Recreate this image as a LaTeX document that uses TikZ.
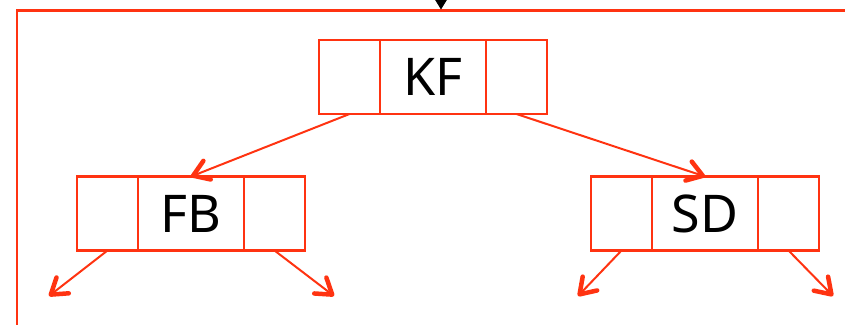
\documentclass[tikz,border=0pt]{standalone}
\usepackage{fontspec}
\setmainfont{Noto Sans}
\usetikzlibrary{arrows.meta}
\definecolor{tred}{HTML}{FF3311}
\begin{document}
\begin{tikzpicture}[x=1pt,y=-1pt,
  cell/.style={draw=tred,line width=2.2pt,minimum height=74pt,inner sep=0pt,outer sep=0pt,text=black,
     font=\fontsize{52}{60}\selectfont},
  side/.style={cell,minimum width=61pt},
  mid/.style={cell,minimum width=106pt},
  ptr/.style={draw=tred,line width=2pt,-{Straight Barb[length=15pt,width=20pt,line width=4.5pt,round]}},
  frame/.style={draw=tred,line width=2.4pt}]
\useasboundingbox (0,0) rectangle (845,324);
% frame
\draw[frame] (17,330) -- (17,10.5) -- (850,10.5);
\coordinate (in) at (441,-5);
\coordinate (inend) at (441,9.5);
\draw[line width=1pt,-{Triangle[length=10pt,width=12pt]}] (in) -- (inend);
% KF
\node[mid] (kfM) at (433,77) {\raisebox{-3.5pt}{KF}};
\node[side,anchor=east] (kfL) at (kfM.west) {};
\node[side,anchor=west] (kfR) at (kfM.east) {};
% FB
\node[mid] (fbM) at (191,213.5) {\raisebox{-3.5pt}{FB}};
\node[side,anchor=east] (fbL) at (fbM.west) {};
\node[side,anchor=west] (fbR) at (fbM.east) {};
% SD
\node[mid] (sdM) at (705,213.5) {\raisebox{-3.5pt}{SD}};
\node[side,anchor=east] (sdL) at (sdM.west) {};
\node[side,anchor=west] (sdR) at (sdM.east) {};
% free ends
\coordinate (a1) at (49,296);
\coordinate (a2) at (334,296);
\coordinate (a3) at (578,296);
\coordinate (a4) at (833,296);
% connectors
\draw[ptr] (kfL.south) -- (fbM.north);
\draw[ptr] (kfR.south) -- (sdM.north);
\draw[ptr] (fbL.south) -- (a1);
\draw[ptr] (fbR.south) -- (a2);
\draw[ptr] (sdL.south) -- (a3);
\draw[ptr] (sdR.south) -- (a4);
\end{tikzpicture}
\end{document}
